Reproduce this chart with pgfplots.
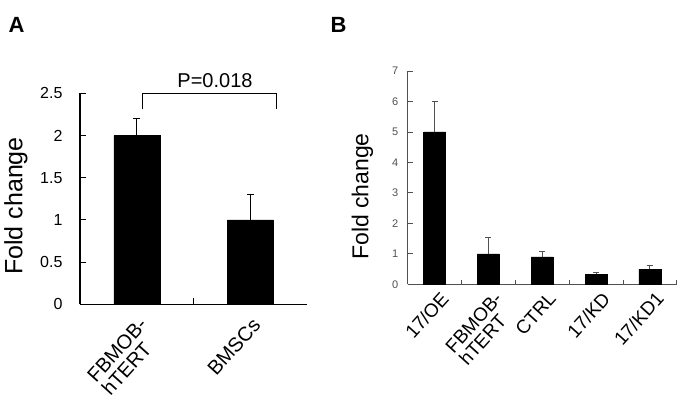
\documentclass[border=0pt]{standalone}
\usepackage{pgfplots}
\pgfplotsset{compat=1.18}
\usepackage{fontspec}
\setmainfont{Liberation Sans}
\definecolor{bgr}{RGB}{80,80,80}
\begin{document}
\begin{tikzpicture}[x=1pt,y=1pt]
\useasboundingbox (0,0) rectangle (681,400);
% Panel A
\begin{axis}[
 at={(80pt,95.7pt)}, anchor=south west,
 scale only axis, width=227pt, height=211pt,
 xmin=-0.5, xmax=1.5, ymin=0, ymax=2.5,
 axis lines*=left,
 axis line style={line width=1.2pt, black},
 /pgf/number format/assume math mode=true,
 ytick={0,0.5,1,1.5,2,2.5},
 yticklabel style={font=\fontsize{16}{18}\selectfont, xshift=-14pt},
 tick align=inside,
 major tick length=6pt, minor tick length=6pt,
 tick style={line width=1pt, black},
 xtick={0,1},
 xticklabels={{FBMOB-\\hTERT},BMSCs},
 major x tick style={draw=none},
 minor xtick={0.5},
 xticklabel style={font=\fontsize{20}{19.5}\selectfont, rotate=48, anchor=north east, align=left, inner sep=0pt, xshift=-8.3pt, yshift=-8.8pt},
 clip=false,
]
\addplot[ybar, bar width=46pt, fill=black, draw=black,
  error bars/.cd, y dir=plus, y explicit,
  error bar style={line width=1pt, black},
  error mark options={rotate=90, line width=1pt, mark size=3.5pt}]
 coordinates {(0,2) +- (0,0.2) (1,1) +- (0,0.3)};
\draw[line width=0.9pt] (axis cs:0.052,2.31) -- (axis cs:0.052,2.5) -- (axis cs:1.227,2.5) -- (axis cs:1.227,2.31);
\end{axis}
\node[font=\fontsize{20}{22}\selectfont, anchor=base] at (215,312.7) {P=0.018};
\node[rotate=90, font=\fontsize{25}{27}\selectfont] at (16,194) {Fold change};
\node[font=\bfseries\fontsize{22}{24}\selectfont] at (16.5,375) {A};
% Panel B
\begin{axis}[
 at={(407.7pt,115.7pt)}, anchor=south west,
 scale only axis, width=269pt, height=213.3pt,
 xmin=-0.5, xmax=4.5, ymin=0, ymax=7,
 axis lines*=left,
 axis line style={line width=1pt, bgr},
 /pgf/number format/assume math mode=true,
 ytick={0,1,2,3,4,5,6,7},
 yticklabel style={font=\fontsize{11}{12}\selectfont, text=bgr, xshift=-6pt},
 tick align=inside,
 major tick length=5pt, minor tick length=4pt,
 tick style={line width=0.8pt, bgr},
 xtick={0,1,2,3,4},
 xticklabels={17/OE,{FBMOB-\\hTERT},CTRL,17/KD,17/KD1},
 major x tick style={draw=none},
 minor xtick={0.5,1.5,2.5,3.5,4.5},
 xticklabel style={font=\fontsize{19}{18.5}\selectfont, rotate=48, anchor=north east, align=left, inner sep=0pt, xshift=-1.15pt, yshift=-7.7pt},
 clip=false,
]
\addplot[ybar, bar width=22pt, fill=black, draw=black,
  error bars/.cd, y dir=plus, y explicit,
  error bar style={line width=0.8pt, bgr},
  error mark options={rotate=90, line width=0.8pt, bgr, mark size=3pt}]
 coordinates {(0,5.0) +- (0,1.01) (1,1.0) +- (0,0.53) (2,0.9) +- (0,0.19) (3,0.33) +- (0,0.07) (4,0.49) +- (0,0.14)};
\end{axis}
\node[rotate=90, font=\fontsize{23}{25}\selectfont] at (362.5,203.5) {Fold change};
\node[font=\bfseries\fontsize{22}{24}\selectfont] at (338.5,375) {B};
\end{tikzpicture}
\end{document}
